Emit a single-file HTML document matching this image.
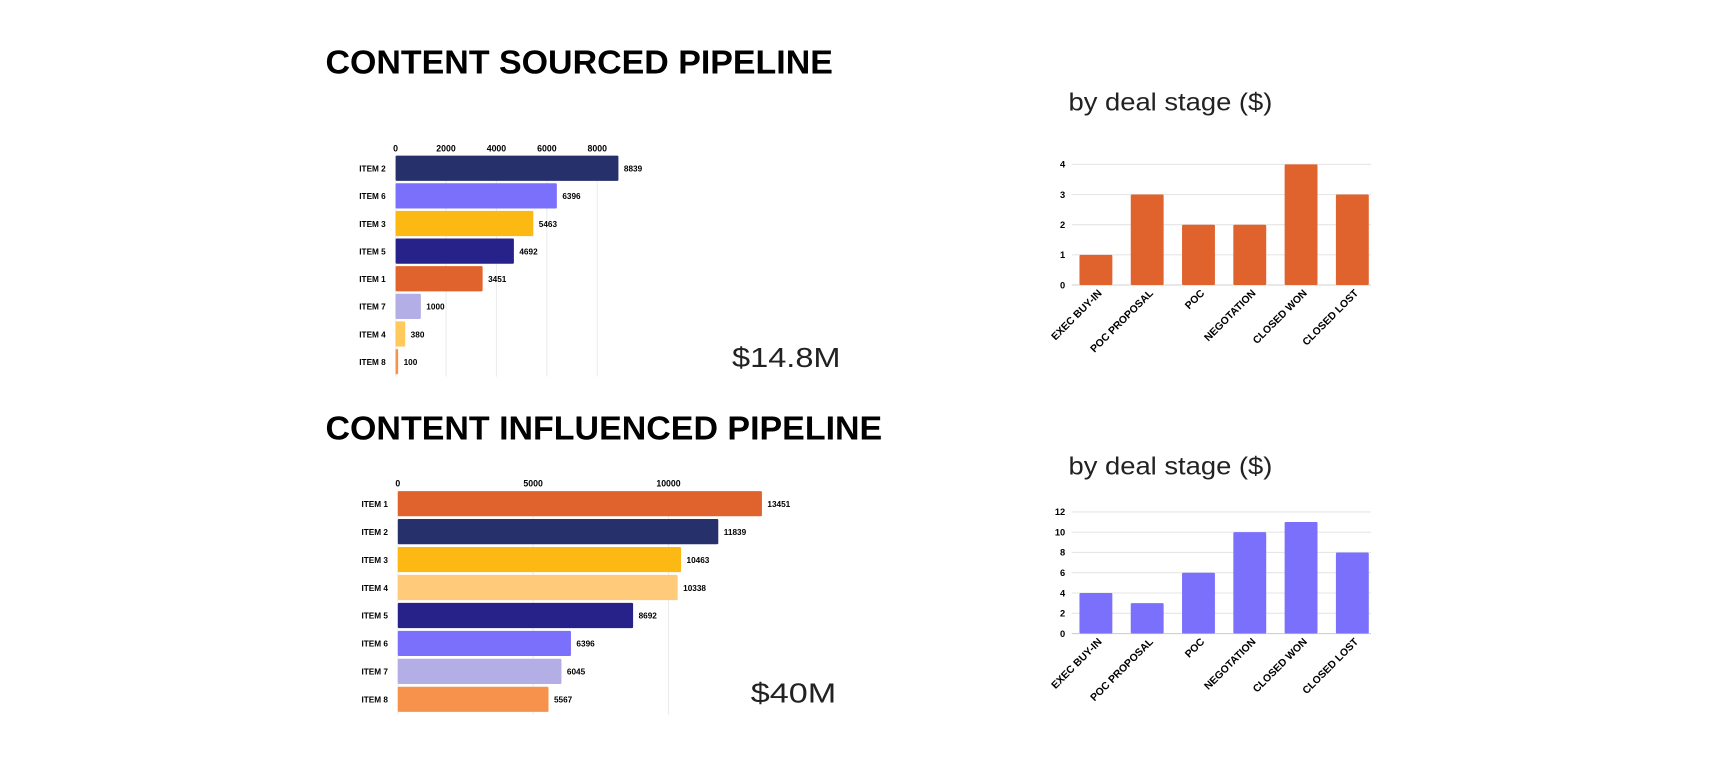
<!DOCTYPE html>
<html><head><meta charset="utf-8">
<style>
html,body{margin:0;padding:0;background:#fff;}
svg{display:block;}
.t{font-family:"Liberation Sans",sans-serif;}
</style></head>
<body>
<svg id="c" width="1714" height="764" viewBox="0 0 1564 697" preserveAspectRatio="none" xmlns="http://www.w3.org/2000/svg">
<rect width="1564" height="697" fill="#fff"/>
<text class="t" x="297" y="67" font-size="30" font-weight="900" textLength="463" lengthAdjust="spacingAndGlyphs">CONTENT SOURCED PIPELINE</text>
<text class="t" x="297" y="401" font-size="30" font-weight="900" textLength="508" lengthAdjust="spacingAndGlyphs">CONTENT INFLUENCED PIPELINE</text>
<text class="t" x="975" y="101" font-size="23" fill="#222" textLength="186" lengthAdjust="spacingAndGlyphs">by deal stage ($)</text>
<text class="t" x="975" y="433" font-size="23" fill="#222" textLength="186" lengthAdjust="spacingAndGlyphs">by deal stage ($)</text>
<text class="t" x="668" y="335" font-size="25" fill="#222" textLength="99" lengthAdjust="spacingAndGlyphs">$14.8M</text>
<text class="t" x="685" y="641" font-size="25" fill="#222" textLength="78" lengthAdjust="spacingAndGlyphs">$40M</text>
<g id="g"></g>
</svg>
<script>
// Top horizontal bar chart
const topItems = ["ITEM 2","ITEM 6","ITEM 3","ITEM 5","ITEM 1","ITEM 7","ITEM 4","ITEM 8"];
const topValues = [8839,6396,5463,4692,3451,1000,380,100];
const topColors = ["#26306b","#7a70fb","#fdb913","#27218a","#e0622c","#b3afe6","#ffc95c","#f7914e"];
const topTicks = [0,2000,4000,6000,8000];
// Bottom horizontal bar chart
const botItems = ["ITEM 1","ITEM 2","ITEM 3","ITEM 4","ITEM 5","ITEM 6","ITEM 7","ITEM 8"];
const botValues = [13451,11839,10463,10338,8692,6396,6045,5567];
const botColors = ["#e0622c","#26306b","#fdb913","#ffcb7a","#27218a","#7a70fb","#b3afe6","#f7924d"];
const botTicks = [0,5000,10000];
// Stage charts
const stages = ["EXEC BUY-IN","POC PROPOSAL","POC","NEGOTATION","CLOSED WON","CLOSED LOST"];
const stageTopValues = [1,3,2,2,4,3];
const stageTopTicks = [0,1,2,3,4];
const stageBotValues = [4,3,6,10,11,8];
const stageBotTicks = [0,2,4,6,8,10,12];

const NS="http://www.w3.org/2000/svg";
const G=document.getElementById('g');
function mk(tag,attrs,txt){const e=document.createElementNS(NS,tag);for(const k in attrs)e.setAttribute(k,attrs[k]);if(txt!==undefined)e.textContent=txt;G.appendChild(e);return e;}

function hbar(items,values,colors,ticks,x0,pxPer,y0,pitch,bh,tickY,name){
  const sx=v=>x0+v*pxPer;
  const bottom=y0+pitch*items.length;
  ticks.forEach(t=>{
    const l=mk('line',{x1:sx(t),x2:sx(t),y1:y0,y2:bottom,stroke:'#ececec','stroke-width':1});
    
    
    const tx=mk('text',{x:sx(t),y:tickY,'text-anchor':'middle','font-size':8,'font-weight':'bold',class:'t'},t);
    
    
  });
  items.forEach((it,i)=>{
    const y=y0+i*pitch;
    const r=mk('rect',{x:x0,y:y,width:Math.max(values[i]*pxPer,1.5),height:bh,fill:colors[i],rx:1});
    
    
    const lb=mk('text',{x:x0-9,y:y+bh/2+3,'text-anchor':'end','font-size':7.5,'font-weight':'bold',class:'t'},it);
    
    
    const vl=mk('text',{x:sx(values[i])+5,y:y+bh/2+3,'font-size':7.5,'font-weight':'bold',class:'t'},values[i]);
    
    
  });
}
hbar(topItems,topValues,topColors,topTicks,361,184/8000,142,25.2,23,138,'sourced');
hbar(botItems,botValues,botColors,botTicks,363,247/10000,448,25.5,23,444,'influenced');

function vbar(values,ticks,color,y0,pxPer,name){
  const sy=v=>y0-v*pxPer;
  ticks.forEach(t=>{
    const l=mk('line',{x1:978,x2:1251,y1:sy(t),y2:sy(t),stroke:t===0?'#d0d0d0':'#e6e6e6','stroke-width':1});
    
    
    const tx=mk('text',{x:972,y:sy(t)+3,'text-anchor':'end','font-size':8.5,'font-weight':'bold',class:'t'},t);
    
    
  });
  stages.forEach((s,i)=>{
    const x=985+i*46.8;
    const r=mk('rect',{x:x,y:sy(values[i]),width:30,height:values[i]*pxPer,fill:color,rx:1});
    
    
    const cx=x+21, cy=y0+8;
    const lb=mk('text',{x:cx,y:cy,'text-anchor':'end','font-size':9.5,'font-weight':'900',class:'t',transform:`rotate(-45 ${cx} ${cy})`},s);
    
    
  });
}
vbar(stageTopValues,stageTopTicks,'#e0622c',260,27.5,'sourced-stage');
vbar(stageBotValues,stageBotTicks,'#7a70fb',578,9.25,'influenced-stage');
</script>
</body></html>
